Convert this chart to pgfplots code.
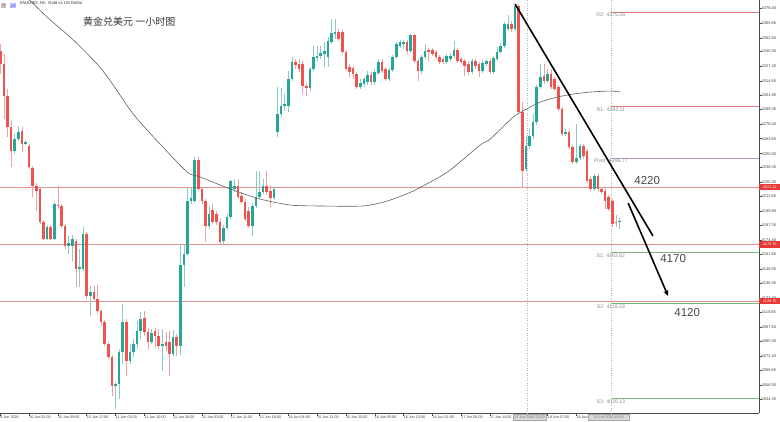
\documentclass[border=0pt]{standalone}
\usepackage{pgfplots}
\pgfplotsset{compat=1.18}
\usepackage{pgfplotstable}
\usetikzlibrary{arrows.meta}
\usepackage{fontspec}
\setmainfont{Liberation Sans}
\newfontfamily\cjk{Noto Sans CJK SC}
\definecolor{cg}{RGB}{38,166,154}
\definecolor{cr}{RGB}{239,83,80}
\definecolor{wg}{RGB}{135,205,198}
\definecolor{wr}{RGB}{244,160,158}
\definecolor{hl}{RGB}{226,145,145}
\definecolor{pvR}{RGB}{226,120,120}
\definecolor{pvP}{RGB}{180,150,205}
\definecolor{pvS}{RGB}{120,185,120}
\definecolor{tagred}{RGB}{229,57,53}

\pgfplotstableread{
i o h l c
4 4252.8 4267.7 4250.1 4263.3
5 4263.3 4274.8 4261.6 4269.5
7 4258.9 4262.5 4258.1 4260.7
13 4175.3 4187.6 4174.4 4185.9
15 4175.3 4207.9 4174.4 4206.1
19 4169.1 4178.0 4162.1 4171.8
20 4169.1 4178.8 4155.9 4175.3
22 4148.9 4166.5 4133.0 4150.7
23 4148.9 4185.9 4147.1 4179.7
25 4125.1 4133.9 4107.5 4128.6
32 4045.9 4049.4 4025.6 4047.6
33 4047.6 4078.5 4034.4 4075.8
34 4075.8 4118.1 4065.3 4102.2
36 4067.9 4082.9 4065.3 4075.8
37 4075.8 4087.3 4071.4 4082.9
38 4082.9 4103.1 4078.5 4094.3
39 4094.3 4111.0 4087.3 4104.9
42 4084.6 4096.1 4082.9 4092.5
45 4081.1 4096.1 4059.1 4082.9
48 4074.1 4095.2 4072.3 4089.0
50 4081.1 4170.9 4073.2 4152.4
51 4152.4 4170.0 4133.0 4162.1
52 4162.1 4220.2 4160.3 4208.8
53 4208.8 4220.2 4206.1 4211.4
54 4208.8 4247.5 4207.0 4244.9
58 4186.7 4204.4 4184.1 4197.3
62 4173.5 4187.6 4170.9 4185.0
63 4185.0 4197.3 4183.2 4194.7
64 4194.7 4227.2 4192.9 4226.4
65 4219.3 4228.1 4216.7 4222.0
70 4186.7 4207.0 4178.0 4204.4
71 4204.4 4235.2 4202.6 4212.3
72 4212.3 4235.2 4210.5 4216.7
73 4216.7 4228.1 4214.9 4222.0
76 4211.4 4221.1 4209.6 4219.3
77 4269.5 4309.1 4265.1 4285.4
78 4285.4 4308.2 4282.7 4292.4
79 4292.4 4303.0 4288.0 4294.2
80 4292.4 4323.2 4287.1 4316.2
81 4316.2 4335.5 4314.4 4331.1
86 4308.2 4326.7 4305.6 4325.0
87 4325.0 4345.2 4323.2 4335.5
88 4334.7 4345.2 4332.0 4336.4
89 4336.4 4345.2 4333.8 4339.1
90 4338.2 4348.7 4326.7 4340.8
91 4335.5 4353.1 4326.7 4349.6
92 4348.7 4369.0 4347.0 4356.7
93 4355.8 4369.0 4351.4 4357.5
100 4309.1 4316.2 4307.4 4312.6
101 4311.8 4317.9 4309.1 4316.2
102 4313.5 4323.2 4310.9 4319.7
104 4313.5 4325.0 4310.9 4322.3
105 4321.5 4333.8 4319.7 4331.1
108 4316.2 4325.9 4314.4 4324.1
109 4324.1 4337.3 4322.3 4335.5
110 4335.5 4348.7 4333.8 4347.0
111 4345.2 4350.5 4343.5 4348.7
112 4347.0 4350.5 4342.6 4348.7
114 4340.8 4355.8 4339.1 4354.9
117 4323.2 4337.3 4320.6 4335.5
118 4335.5 4347.0 4333.8 4340.8
124 4331.1 4338.2 4329.4 4336.4
125 4333.8 4339.1 4332.0 4336.4
126 4336.4 4349.6 4334.7 4341.7
131 4322.3 4333.8 4320.6 4332.0
134 4323.2 4332.9 4321.5 4330.3
135 4329.4 4333.8 4327.6 4332.0
137 4322.3 4336.4 4320.6 4334.7
138 4333.8 4344.3 4332.0 4339.9
139 4339.9 4347.9 4338.2 4345.2
140 4345.2 4366.4 4343.5 4364.6
141 4360.2 4372.5 4358.4 4364.6
143 4360.2 4382.2 4358.4 4380.4
146 4236.9 4266.0 4234.3 4257.2
147 4257.2 4272.1 4254.5 4266.0
148 4266.0 4285.4 4263.3 4278.3
149 4278.3 4310.9 4275.7 4309.1
150 4309.1 4329.4 4307.4 4317.9
152 4314.4 4325.0 4312.6 4320.6
157 4267.7 4272.1 4266.0 4269.5
160 4243.1 4276.6 4241.3 4246.6
161 4246.6 4258.9 4244.9 4257.2
165 4219.3 4232.5 4217.6 4230.8
172 4190.3 4193.8 4184.1 4191.1
}\bull

\pgfplotstableread{
i o h l c
0 4340.8 4347.0 4320.6 4329.4
1 4329.4 4338.2 4281.0 4301.2
2 4301.2 4307.4 4265.1 4273.9
3 4273.9 4279.2 4238.7 4252.8
6 4270.4 4273.9 4251.9 4258.9
8 4257.2 4258.9 4236.9 4238.7
9 4237.8 4239.6 4212.3 4222.0
10 4222.0 4224.6 4199.9 4217.6
11 4219.3 4221.1 4188.5 4190.3
12 4190.3 4192.0 4174.4 4175.3
14 4185.9 4187.6 4174.4 4175.3
16 4205.2 4222.0 4201.7 4204.4
17 4204.4 4206.1 4185.0 4186.7
18 4186.7 4188.5 4166.5 4169.1
21 4173.5 4175.3 4133.0 4148.9
24 4179.7 4181.5 4122.5 4125.1
26 4128.6 4133.9 4119.8 4122.5
27 4122.5 4134.8 4109.3 4111.9
28 4111.9 4113.7 4098.7 4102.2
29 4102.2 4104.0 4081.1 4082.9
30 4082.9 4084.6 4069.7 4071.4
31 4071.4 4073.2 4037.1 4045.9
35 4102.2 4104.9 4054.7 4067.9
40 4105.8 4111.9 4089.9 4093.4
41 4093.4 4097.0 4077.6 4084.6
43 4094.3 4097.0 4079.4 4089.9
44 4089.9 4096.1 4078.5 4081.1
46 4084.6 4093.4 4076.7 4081.1
47 4084.6 4094.3 4054.7 4074.1
49 4089.0 4091.7 4072.3 4081.1
55 4244.9 4247.5 4217.6 4219.3
56 4219.3 4221.1 4206.1 4208.8
57 4208.8 4210.5 4172.7 4186.7
59 4200.8 4206.1 4188.5 4190.3
60 4197.3 4199.9 4187.6 4190.3
61 4190.3 4192.9 4170.9 4172.7
66 4222.0 4228.1 4210.5 4212.3
67 4213.2 4216.7 4206.1 4207.9
68 4207.9 4210.5 4191.1 4192.9
69 4199.9 4203.5 4185.0 4186.7
74 4222.0 4235.2 4214.0 4216.7
75 4217.6 4222.9 4203.5 4211.4
82 4331.1 4333.8 4325.0 4328.5
83 4329.4 4333.8 4322.3 4325.0
84 4329.4 4332.0 4303.0 4310.0
85 4310.0 4312.6 4301.2 4308.2
94 4357.5 4360.2 4349.6 4351.4
95 4357.5 4359.3 4338.2 4339.9
96 4339.9 4341.7 4323.2 4325.0
97 4326.7 4329.4 4317.9 4322.3
98 4325.9 4327.6 4316.2 4320.6
99 4320.6 4322.3 4307.4 4309.1
103 4319.7 4322.3 4310.9 4313.5
106 4331.1 4333.8 4321.5 4323.2
107 4325.0 4326.7 4314.4 4316.2
113 4348.7 4350.5 4338.2 4340.8
115 4354.9 4355.8 4330.3 4332.0
116 4332.0 4333.8 4314.4 4323.2
119 4341.7 4343.5 4332.0 4339.9
120 4341.7 4343.5 4336.4 4338.2
121 4339.9 4341.7 4333.8 4335.5
122 4335.5 4337.3 4329.4 4331.1
123 4333.8 4335.5 4329.4 4331.1
127 4341.7 4343.5 4330.3 4332.0
128 4333.8 4335.5 4329.4 4331.1
129 4332.0 4333.8 4318.8 4327.6
130 4329.4 4332.0 4319.7 4322.3
132 4332.0 4333.8 4325.0 4327.6
133 4329.4 4331.1 4317.9 4323.2
136 4332.0 4333.8 4320.6 4322.3
142 4364.6 4367.2 4357.5 4360.2
144 4380.4 4382.2 4285.4 4287.1
145 4287.1 4295.9 4221.1 4235.2
151 4318.8 4329.4 4311.8 4314.4
153 4320.6 4325.0 4307.4 4309.1
154 4316.2 4317.9 4305.6 4307.4
155 4309.1 4310.9 4288.0 4289.8
156 4289.8 4291.5 4266.0 4267.7
158 4269.5 4271.3 4254.5 4256.3
159 4256.3 4258.1 4241.3 4243.1
162 4257.2 4258.9 4245.7 4248.4
163 4252.8 4254.5 4224.6 4226.4
164 4228.1 4230.8 4217.6 4219.3
166 4230.8 4232.5 4217.6 4219.3
167 4219.3 4221.1 4214.9 4216.7
168 4217.6 4219.3 4201.7 4208.8
169 4212.3 4214.0 4199.9 4201.7
170 4208.8 4210.5 4185.9 4188.5
171 4190.3 4196.4 4185.9 4189.4
}\bear

\begin{document}
\begin{tikzpicture}[x=1pt,y=1pt]
\useasboundingbox (0,0) rectangle (780,421);
\begin{axis}[
  at={(0,7)}, anchor=south west, scale only axis,
  width=759pt, height=414pt,
  xmin=-0.083, xmax=210.75, ymin=4022.1, ymax=4386.6,
  axis x line*=bottom, axis y line*=right,
  axis line style={-, draw=black!70, line width=0.5pt},
  clip mode=individual,
  tick align=outside, major tick length=2.5pt,
  tick style={draw=black!70, line width=0.4pt},
  xtick={0,8,...,160},
  xticklabels={9 Jun 2026,10 Jun 01:00,10 Jun 09:00,10 Jun 17:00,11 Jun 02:00,11 Jun 10:00,11 Jun 18:00,12 Jun 03:00,12 Jun 11:00,12 Jun 19:00,15 Jun 04:00,15 Jun 12:00,15 Jun 20:00,16 Jun 05:00,16 Jun 13:00,16 Jun 21:00,17 Jun 06:00,17 Jun 14:00,{},18 Jun 07:00,18 Jun},
  xticklabel style={font=\fontsize{3.7}{4}\selectfont, anchor=north west, inner sep=0pt, text=black!75},
  ytick={4034.35,4046.50,4059.65,4072.40,4085.35,4097.50,4110.65,4123.40,4136.35,4148.50,4161.65,4174.40,4187.35,4199.90,4212.65,4225.40,4238.35,4250.50,4263.65,4276.40,4289.35,4301.90,4314.65,4327.40,4340.35,4352.50,4365.65,4378.40},
  yticklabels={4034.35,4046.50,4059.65,4072.40,4085.35,4097.50,4110.65,4123.40,4136.35,4148.50,4161.65,4174.40,4187.35,4199.90,4212.65,4225.40,4238.35,4250.50,4263.65,4276.40,4289.35,4301.90,4314.65,4327.40,4340.35,4352.50,4365.65,4378.40},
  yticklabel style={font=\fontsize{4}{4}\selectfont, anchor=west, inner sep=0pt, text=black!75},
]
% horizontal levels (full width)
\addplot[hl, line width=0.8pt] coordinates {(-0.083,4221.1) (210.75,4221.1)};
\addplot[hl, line width=0.8pt] coordinates {(-0.083,4170.7) (210.75,4170.7)};
\addplot[hl, line width=0.8pt] coordinates {(-0.083,4120.7) (210.75,4120.7)};
% pivot levels
\addplot[pvR, line width=0.7pt] coordinates {(169.6,4375.26) (210.75,4375.26)};
\addplot[pvR, line width=0.7pt] coordinates {(169.6,4292.11) (210.75,4292.11)};
\addplot[pvP, line width=0.7pt] coordinates {(169.6,4246.77) (210.75,4246.77)};
\addplot[pvS, line width=0.7pt] coordinates {(169.6,4163.62) (210.75,4163.62)};
\addplot[pvS, line width=0.7pt] coordinates {(169.6,4118.28) (210.75,4118.28)};
\addplot[pvS, line width=0.7pt] coordinates {(169.6,4035.13) (210.75,4035.13)};
% vertical dotted separators
\draw[black!30, dotted, line width=0.5pt] (axis cs:146.3,4022.1) -- (axis cs:146.3,4386.6);
\draw[black!30, dotted, line width=0.5pt] (axis cs:169.6,4022.1) -- (axis cs:169.6,4386.6);
% wicks
\addplot[wg, line width=0.7pt, quiver={u=0, v=\thisrow{h}-\thisrow{l}}] table[x=i, y=l] {\bull};
\addplot[wr, line width=0.7pt, quiver={u=0, v=\thisrow{h}-\thisrow{l}}] table[x=i, y=l] {\bear};
% bodies
\addplot[cg, line width=2.5pt, quiver={u=0, v={max(\thisrow{c}-\thisrow{o},0.9)}}] table[x=i, y=o] {\bull};
\addplot[cr, line width=2.5pt, quiver={u=0, v={max(\thisrow{o}-\thisrow{c},0.9)}}] table[x=i, y=c] {\bear};
% moving average
\addplot[black!62, line width=0.6pt, smooth, tension=0.4] coordinates {
(7.8,4386.6) (13.6,4369.0) (20.0,4351.4) (26.9,4329.4) (30.6,4314.4) (36.9,4285.4)
(43.6,4261.6) (51.9,4234.3) (55.6,4229.9) (63.9,4219.3) (72.2,4210.5) (80.6,4205.2)
(88.9,4204.4) (100.8,4204.4) (107.5,4208.8) (114.7,4217.6) (124.2,4234.3) (133.3,4258.1)
(136.1,4263.3) (142.5,4282.7) (147.2,4291.5) (150.0,4295.9) (154.7,4300.3) (159.2,4303.0)
(163.9,4304.7) (169.4,4305.6) (172.2,4304.7)};
% trend lines
\draw[black, line width=1.6pt] (axis cs:143.0,4382.2) -- (axis cs:181.3,4178.0);
\draw[black, line width=1.6pt, -{Stealth[length=6pt,width=5pt]}] (axis cs:174.4,4207.0) -- (axis cs:185.5,4125.1);
% annotations
\node[font=\fontsize{11.5}{12}\selectfont, text=black!72] at (axis cs:179.7,4227.2) {4220};
\node[font=\fontsize{11.5}{12}\selectfont, text=black!72] at (axis cs:186.9,4157.7) {4170};
\node[font=\fontsize{11.5}{12}\selectfont, text=black!72] at (axis cs:190.8,4111.0) {4120};
\node[font=\fontsize{10}{11}\selectfont\cjk, text=black!80] at (axis cs:35.8,4366.4) {黄金兑美元 一小时图};
\node[font=\fontsize{4.3}{5}\selectfont, text=black!80, anchor=west, inner sep=0pt] at (axis cs:5.3,4383.1) {XAUUSD, H1: Gold vs US Dollar};
% pivot labels
\node[font=\fontsize{5.2}{6}\selectfont, text=black!45, anchor=north, inner sep=0pt, yshift=-1pt] at (axis cs:169.6,4375.26) {R2: 4375.26};
\node[font=\fontsize{5.2}{6}\selectfont, text=black!45, anchor=north, inner sep=0pt, yshift=-1pt] at (axis cs:169.6,4292.11) {R1: 4292.11};
\node[font=\fontsize{5.2}{6}\selectfont, text=black!45, anchor=north, inner sep=0pt, yshift=-1pt] at (axis cs:169.6,4246.77) {Pivot: 4246.77};
\node[font=\fontsize{5.2}{6}\selectfont, text=black!45, anchor=north, inner sep=0pt, yshift=-1pt] at (axis cs:169.6,4163.62) {S1: 4163.62};
\node[font=\fontsize{5.2}{6}\selectfont, text=black!45, anchor=north, inner sep=0pt, yshift=-1pt] at (axis cs:169.6,4118.28) {S2: 4118.28};
\node[font=\fontsize{5.2}{6}\selectfont, text=black!45, anchor=north, inner sep=0pt, yshift=-1pt] at (axis cs:169.6,4035.13) {S3: 4035.13};
% price tags on the right scale
\node[fill=tagred, text=white, font=\fontsize{3.8}{4}\selectfont, anchor=west, inner sep=0pt, minimum height=6.5pt, minimum width=21pt] at (axis cs:210.75,4221.1) {4221.10};
\node[fill=tagred, text=white, font=\fontsize{3.8}{4}\selectfont, anchor=west, inner sep=0pt, minimum height=6.5pt, minimum width=21pt] at (axis cs:210.75,4170.7) {4170.70};
\node[fill=tagred, text=white, font=\fontsize{3.8}{4}\selectfont, anchor=west, inner sep=0pt, minimum height=6.5pt, minimum width=21pt] at (axis cs:210.75,4120.7) {4120.70};
\end{axis}
% icons top-left
\fill[black!25] (1,413) rectangle (6,418);
\fill[cr!70] (2.5,414.5) rectangle (4.5,416.5);
\fill[blue!25] (10,413) rectangle (16,418);
\draw[blue!60, line width=0.4pt] (10.5,413.5) -- (12.5,416) -- (14,414.5) -- (15.5,417.5);
% crosshair time boxes
\node[fill=black!15, draw=black!35, line width=0.3pt, font=\fontsize{3.6}{4}\selectfont, text=black!55, anchor=north west, inner sep=0.6pt, minimum width=33pt, minimum height=6pt] at (513,7) {17 Jun 2026 22:00};
\node[fill=black!15, draw=black!35, line width=0.3pt, font=\fontsize{3.6}{4}\selectfont, text=black!55, anchor=north west, inner sep=0.6pt, minimum width=41pt, minimum height=6pt] at (588,7) {18 Jun 2026 19:00};
\end{tikzpicture}
\end{document}
